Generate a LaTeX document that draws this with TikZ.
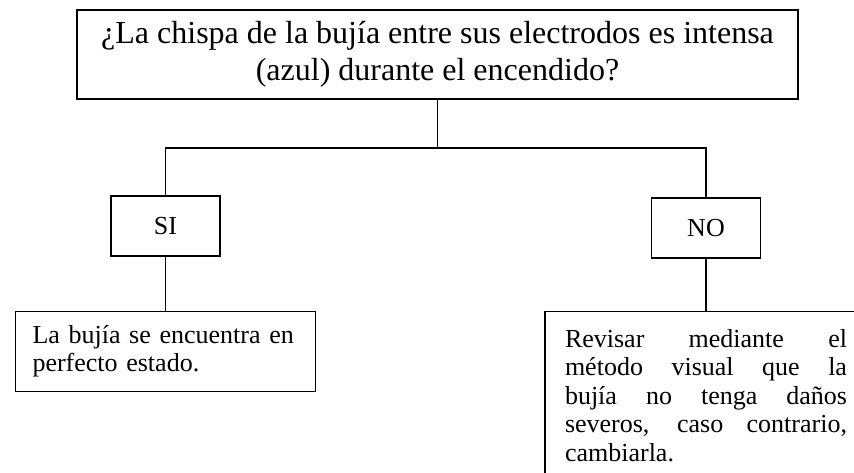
\documentclass[tikz,border=0pt]{standalone}
\usepackage{fontspec}
\setmainfont{Liberation Serif}
\usetikzlibrary{positioning}
\tolerance=10000
\hyphenpenalty=10000

\begin{document}
\begin{tikzpicture}[
  x=1pt, y=-1pt,
  node distance=54pt,
  question/.style={draw, line width=1.2pt, minimum width=721pt, minimum height=89pt, align=center, font=\fontsize{32}{37}\selectfont},
  answer/.style={draw, line width=1.2pt, minimum width=109pt, minimum height=60pt, font=\fontsize{26}{29}\selectfont},
  result/.style={draw, line width=1.2pt, inner sep=0pt, font=\fontsize{26}{28.5}\selectfont},
  link/.style={line width=1.2pt}
]
\useasboundingbox (0,0) rectangle (854,473);
\clip (0,0) rectangle (854,473);
\node[question] (spark) at (437.5,54.5) {¿La chispa de la bujía entre sus electrodos es intensa\\(azul) durante el encendido?};
\node[answer] (yes) at (165.5,226) {SI};
\node[answer] (no) at (706,228) {NO};
\node[result, minimum width=300pt, minimum height=80pt, text width=266pt, align=left, below=of yes] (good) {La bujía se encuentra en\\perfecto estado.};
\node[result, minimum width=322pt, minimum height=168pt, text width=282pt, align=justify, below=52pt of no] (check) {Revisar mediante el\linebreak método visual que la\linebreak bujía no tenga daños\linebreak severos, caso contrario,\linebreak cambiarla.};
\coordinate (fork) at (437.5,148);
\draw[link] (spark) -- (fork);
\draw[link] (fork) -| (yes);
\draw[link] (fork) -| (no);
\draw[link] (yes) -- (good);
\draw[link] (no) -- (check);
\end{tikzpicture}
\end{document}
